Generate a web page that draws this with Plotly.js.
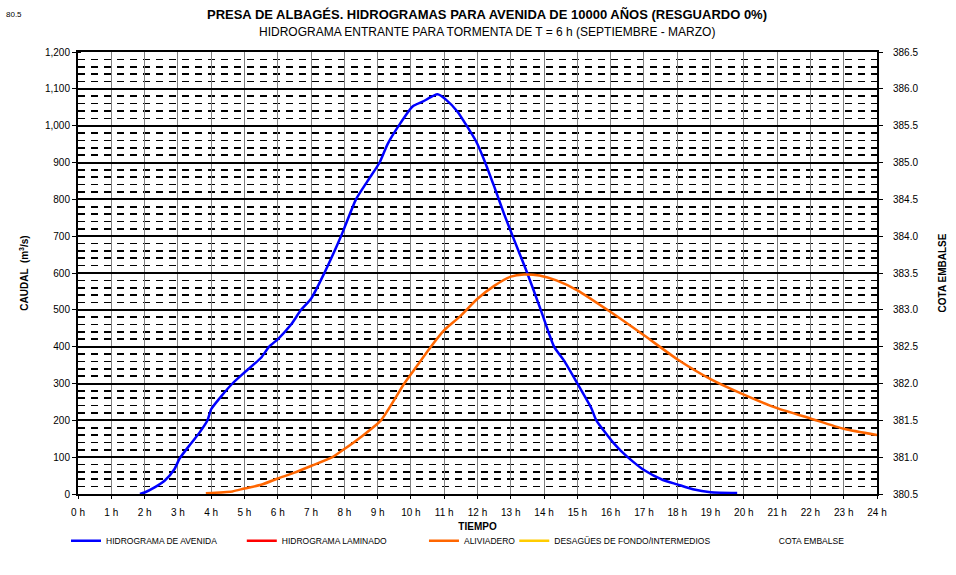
<!DOCTYPE html>
<html><head><meta charset="utf-8">
<script src="https://cdn.plot.ly/plotly-3.0.1.min.js"></script>
<style>body{margin:0;background:#fff}#chart{width:956px;height:575px}</style>
</head><body><div id="chart"></div>
<script>
// Hydrograph inflow (HIDROGRAMA DE AVENIDA): time in hours, discharge m3/s
const blueTime = [1.86,2.0,2.3,2.6,2.9,3.05,3.4,3.66,3.89,4.0,4.3,4.64,5.0,5.5,5.74,6.0,6.4,6.7,7.0,7.4,7.9,8.0,8.35,8.7,9.06,9.3,9.65,10.05,10.35,10.8,11.06,11.4,11.66,11.96,12.2,12.5,12.8,13.1,13.46,13.9,14.3,14.6,15.0,15.42,15.57,16.07,16.3,16.67,17.0,17.57,18.0,18.47,19.0,19.8];
const blueFlow = [0,4,18,36,68,96,138,168,200,230,265,300,330,370,400,420,460,500,530,600,700,722,800,850,900,950,1002,1052,1065,1085,1070,1038,1002,957,907,835,760,690,608,500,400,362,300,233,200,140,118,88,65,38,26,13,5,3];
// Spillway (ALIVIADERO)
const orangeTime = [3.84,4.64,5.0,5.5,6.0,6.5,7.0,7.64,8.0,8.5,9.1,9.8,10.0,10.6,11.0,11.46,12.0,12.5,13.0,13.4,13.86,14.37,15.0,16.0,17.0,18.0,19.0,20.0,21.0,22.0,23.0,24.0];
const orangeFlow = [2,7,15,25,42,58,76,100,122,155,200,300,325,400,445,481,530,565,590,596,593,580,553,494,431,366,312,270,233,205,177,160];
const seriesNames = ["HIDROGRAMA DE AVENIDA","HIDROGRAMA LAMINADO","ALIVIADERO","DESAGÜES DE FONDO/INTERMEDIOS","COTA EMBALSE"];
const seriesColors = ["#0000FF","#FF0000","#FF6600","#FFCC00","rgba(255,255,255,0)"];

const F = "Liberation Sans, Arial, sans-serif";
const traces = [
  {x: blueTime, y: blueFlow, name: seriesNames[0], mode:'lines', line:{color:seriesColors[0], width:2.5, shape:'spline', smoothing:0.6}, legend:'legend'},
  {x: [null], y: [null], name: seriesNames[1], mode:'lines', line:{color:seriesColors[1], width:2.5}, legend:'legend2'},
  {x: orangeTime, y: orangeFlow, name: seriesNames[2], mode:'lines', line:{color:seriesColors[2], width:2.5, shape:'spline', smoothing:0.6}, legend:'legend3'},
  {x: [null], y: [null], name: seriesNames[3], mode:'lines', line:{color:seriesColors[3], width:2.5}, legend:'legend4'},
  {x: [null], y: [null], name: seriesNames[4], mode:'lines', line:{color:seriesColors[4], width:2.5}, yaxis:'y2', legend:'legend5'}
];
function leg(x){ return {x:x, xanchor:'left', y:-0.106, yanchor:'middle', orientation:'h', font:{family:F,size:8.5,color:'#000'}, bgcolor:'rgba(0,0,0,0)'}; }
const layout = {
  width:956, height:575,
  margin:{l:78, r:79, t:52, b:81},
  paper_bgcolor:'#fff', plot_bgcolor:'#fff',
  font:{family:F, color:'#000'},
  showlegend:true,
  title:{text:'<b>PRESA DE ALBAGÉS. HIDROGRAMAS PARA AVENIDA DE 10000 AÑOS (RESGUARDO 0%)</b>', x:487/956, xanchor:'center', xref:'container', y:1-14/575, yanchor:'middle', yref:'container', font:{family:F, size:13, color:'#000'}},
  annotations:[
    {text:'HIDROGRAMA ENTRANTE PARA TORMENTA DE T = 6 h (SEPTIEMBRE - MARZO)', xref:'paper', yref:'paper', x:(487-78)/799, y:(494-32)/442, xanchor:'center', yanchor:'middle', showarrow:false, font:{family:F,size:12,color:'#000'}},
    {text:'80.5', xref:'paper', yref:'paper', x:(4-78)/799, y:(494-14)/442, xanchor:'left', yanchor:'middle', showarrow:false, font:{family:F,size:8,color:'#000'}}
  ],
  xaxis:{range:[0,24], dtick:1, tick0:0, ticksuffix:' h', showgrid:true, gridcolor:'#808080', gridwidth:1,
    showline:true, linecolor:'#000', linewidth:2, mirror:true, ticks:'outside', ticklen:3, tickcolor:'#000', zeroline:false,
    ticklabelstandoff:5,
    tickfont:{family:F,size:10,color:'#000'}, title:{text:'<b>TIEMPO</b>', font:{family:F,size:10,color:'#000'}, standoff:6}},
  yaxis:{range:[0,1200], dtick:100, tickformat:',d', showgrid:true, gridcolor:'#000', gridwidth:2,
    minor:{dtick:20, showgrid:true, gridcolor:'#000', gridwidth:1.6, griddash:'7px,6px', ticks:'inside', ticklen:3, tickcolor:'#000'},
    showline:true, linecolor:'#000', linewidth:2, mirror:true, ticks:'outside', ticklen:4, tickcolor:'#000', zeroline:false,
    tickfont:{family:F,size:10,color:'#000'}, title:{text:'<b>CAUDAL  (m<sup>3</sup>/s)</b>', font:{family:F,size:10,color:'#000'}, standoff:14}},
  yaxis2:{overlaying:'y', side:'right', range:[380.5,386.5], dtick:0.5, tickformat:'.1f', showgrid:false, zeroline:false,
    showline:true, linecolor:'#000', linewidth:2, ticks:'outside', ticklen:4, tickcolor:'#000', ticklabelstandoff:8,
    tickfont:{family:F,size:10,color:'#000'}, title:{text:'<b>COTA EMBALSE</b>', font:{family:F,size:10,color:'#000'}, standoff:22}},
  legend: leg(-0.015),
  legend2: leg(0.205),
  legend3: leg(0.433),
  legend4: leg(0.546),
  legend5: leg(0.827)
};
Plotly.newPlot('chart', traces, layout, {displayModeBar:false, staticPlot:true});
</script>
</body></html>
